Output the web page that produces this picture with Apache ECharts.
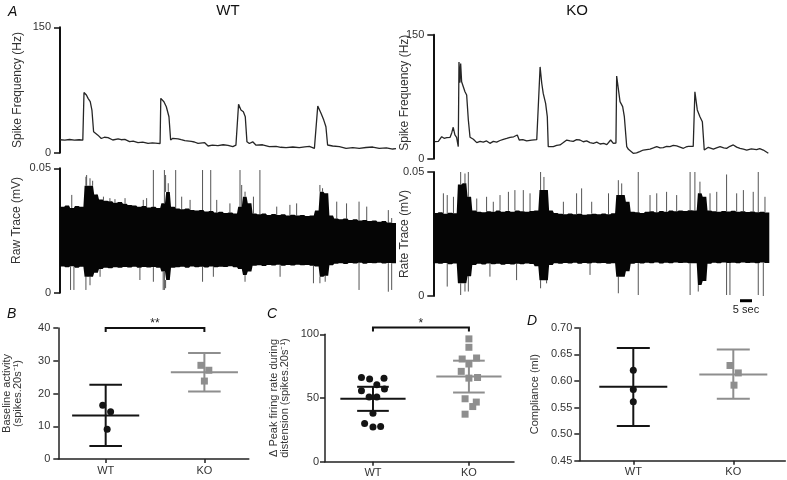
<!DOCTYPE html>
<html><head><meta charset="utf-8">
<script src="https://cdn.jsdelivr.net/npm/echarts@6/dist/echarts.min.js"></script>
<style>html,body{margin:0;padding:0;background:#fff}#c{width:787px;height:480px}</style>
</head><body><div id="c"></div><script>
// ---------- Panel A: spike frequency traces (time s, Hz) ----------
const wtFreq = [[0,15.5],[2,15],[4,15.8],[6,15],[8,15.5],[9.5,15],[10,72],[11,69],[11.7,65],[12.6,61],[13.3,51],[14,25],[14.5,23],[15.8,21],[17.2,17],[18.5,18.5],[20,18],[22,15.2],[24.2,16.5],[25.5,15.5],[27,16],[29,13.2],[30.5,13.8],[32.5,12],[34.5,12.6],[36.7,11.2],[38.5,11.8],[40.8,11.2],[41.7,11],[42,65],[43.3,61],[44.3,55],[45.4,43],[46.1,15.2],[47,17.2],[49.2,16.5],[50.5,15.5],[52,14.4],[54.7,13.6],[56,12.8],[57.5,11.2],[60.3,12],[61.7,8],[63.5,9],[65.8,8.5],[68,9.5],[70,8.8],[72,7.2],[73.3,9],[74,11.2],[74.4,58],[75.4,51],[76.4,49],[77.2,43],[77.9,13],[78.9,11],[80.3,13],[81.7,9],[84.4,9.5],[87.2,7.2],[90,7.6],[92,6.5],[94.2,6],[97,6.8],[99.7,6],[102,7],[103.9,7.6],[106,5.2],[107.4,55.8],[108.8,47],[109.9,39],[110.8,31],[111.5,9.2],[113.6,8],[116.4,7.2],[119.2,5.2],[122,6],[124.7,5.2],[127.5,6.2],[130.3,6.8],[133,5.2],[136,5.8],[138.6,4.4],[140,4.8]];
const koFreq = [[0.7,20.6],[2.1,21],[3.5,26.6],[4.5,24.7],[5.6,25.5],[7,25.9],[7.7,31.5],[8.3,38],[9,28.7],[9.7,25.9],[10.4,14.5],[10.7,117],[11.1,92],[11.4,115],[11.8,93],[12.5,87],[13.2,81],[13.9,77],[14.6,46.8],[15.3,25.9],[16.7,23.5],[18.1,19.4],[19.5,21],[20.8,20],[22.2,21.5],[23.6,18.6],[25,21],[26.4,20],[27.8,22],[29.2,23.5],[30.6,24.5],[32,25.9],[33.5,26.5],[35,28.7],[35.8,22.6],[37.3,23],[38.9,21.5],[41,22.5],[43.1,23],[43.8,24.7],[44.5,111],[45.2,91],[45.8,79],[46.8,67],[47.5,50.8],[47.9,14.5],[50,14.5],[51.4,16],[52.8,16.6],[54.2,19.5],[55.6,22.6],[57,21.5],[58.3,21],[59.7,23],[61.1,22.6],[62.5,20.5],[63.9,21.5],[65.3,19.5],[66.7,18.6],[68.1,20],[69.5,17.8],[71,18.5],[72.3,17],[73.9,22.6],[75,18.5],[76.1,19],[76.4,100],[77.2,99],[77.8,69],[78.9,63],[79.6,50.8],[80.6,14.5],[81.3,11.3],[83.3,6.5],[84.7,7],[86,8.5],[87.5,10.5],[90.3,11.7],[91.7,13],[93.1,14.5],[94.5,13],[95.8,13.5],[97.2,14.8],[98.6,14.5],[100,16],[101.4,15.4],[102.8,14],[104.2,12.6],[105.3,14.2],[106.3,15],[108.3,14.8],[109,81],[110,59],[111.1,50.8],[112.1,44.8],[112.9,10.5],[114.6,13.8],[116.7,11.5],[118,13],[119.5,14.5],[121,13],[122.2,12.5],[123.6,15],[125,16.6],[126.4,14],[127.8,12.5],[129.2,11.5],[130.6,10.5],[132.5,12],[134.7,11],[136,12.2],[137.5,10.5],[139.6,6.5]];

// ---------- Panel A: raw traces, envelope per 2 s bin (mV) ----------
const rawBinStart = 0, rawBin = 2;
const wtRawUpper = [.0345,.0350,.0340,.0348,.0345, .0430,.0430,.0395,.0375,.0370, .0368,.0362,.0365,.0358,.0352, .0350,.0345,.0348,.0342,.0345, .0340,.0360,.0405,.0345,.0338, .0335,.0338,.0332,.0330,.0332, .0326,.0328,.0322,.0325,.0320, .0322,.0318,.0345,.0386,.0360, .0318,.0315,.0318,.0312,.0316, .0312,.0315,.0310,.0313,.0310, .0312,.0308,.0310,.0330,.0406, .0400,.0310,.0298,.0295,.0298, .0292,.0295,.0290,.0292,.0288, .0290,.0285,.0288,.0282,.0280];
const wtRawLower = [.0105,.0102,.0106,.0100,.0104, .0064,.0064,.0080,.0095,.0100, .0098,.0102,.0100,.0103,.0101, .0104,.0100,.0103,.0101,.0103, .0100,.0085,.0051,.0100,.0102, .0104,.0100,.0105,.0102,.0104, .0101,.0105,.0102,.0104,.0103, .0106,.0102,.0095,.0071,.0085, .0108,.0110,.0107,.0111,.0109, .0112,.0108,.0111,.0109,.0112, .0110,.0111,.0108,.0105,.0064, .0068,.0110,.0116,.0118,.0115, .0119,.0117,.0120,.0116,.0119, .0118,.0120,.0117,.0119,.0118];
const koRawUpper = [.0335,.0338,.0332,.0336,.0334, .0450,.0455,.0400,.0345,.0340, .0338,.0342,.0340,.0345,.0340, .0343,.0340,.0345,.0342,.0340, .0343,.0345,.0427,.0427,.0345, .0335,.0332,.0330,.0333,.0330, .0332,.0328,.0330,.0332,.0330, .0333,.0330,.0334,.0407,.0407, .0380,.0340,.0338,.0335,.0340, .0342,.0338,.0343,.0340,.0345, .0342,.0345,.0343,.0346,.0345, .0414,.0400,.0345,.0342,.0340, .0343,.0341,.0344,.0340,.0342, .0339,.0341,.0338,.0340,.0337];
const koRawLower = [.0132,.0130,.0133,.0128,.0131, .0051,.0051,.0080,.0125,.0130, .0127,.0131,.0128,.0130,.0126, .0129,.0127,.0130,.0128,.0131, .0129,.0120,.0064,.0064,.0125, .0132,.0130,.0133,.0131,.0134, .0130,.0133,.0131,.0134,.0132, .0133,.0130,.0132,.0078,.0078, .0100,.0130,.0133,.0131,.0134, .0132,.0135,.0131,.0134,.0132, .0135,.0133,.0134,.0132,.0132, .0044,.0060,.0130,.0134,.0132, .0135,.0133,.0134,.0132,.0135, .0133,.0134,.0132,.0135,.0133];
// individual large deflections: [time, low, high]
const wtRawSpikes = [[4.4,.0011,.030],[5.8,.0011,.030],[10.8,.0011,.0466],[33.3,.0051,.030],[38.9,.0044,.0493],[43.5,.0011,.0493],[48.2,.02,.0493],[59.4,.0044,.0493],[62.8,.02,.0493],[75.0,.02,.0493],[83.3,.02,.0493],[105.6,.0038,.030],[124.6,.0011,.0366],[136.8,.0004,.0332],[138.2,.0011,.030],
 [4.9,.02,.0393],[11.1,.02,.0473],[12.5,.003,.046],[13.6,.02,.045],[15.3,.02,.0397],[16.7,.0064,.02],[18.1,.02,.0386],[20.8,.02,.038],[22.9,.02,.0376],[27.1,.02,.038],[34.7,.02,.0373],[36.1,.02,.038],[43.0,.0011,.02],[44.0,.0018,.0473],[45.1,.02,.044],[50.7,.02,.0386],[54.2,.02,.0373],[63.9,.0064,.02],[65.3,.02,.0373],[70.8,.02,.0359],[75.7,.02,.0433],[77.1,.0044,.0406],[80.6,.02,.0386],[90.3,.02,.0346],[91.7,.0064,.02],[95.8,.02,.0353],[98.6,.02,.0359],[108.3,.0038,.0433],[109.4,.02,.042],[110.5,.0044,.02],[115.3,.02,.0366],[119.4,.02,.0359],[127.8,.02,.0346]];
const koRawSpikes = [[11.4,.0004,.05],[13.2,.0018,.0494],[14.6,.0018,.05],[44.7,.0031,.05],[77.1,.0011,.0467],[85.4,.0004,.05],[107,.0004,.05],[109,.02,.05],[122.2,.0004,.049],[123.6,.0004,.03],[135.4,.0004,.05],[137.5,0,.03],
 [4.2,.02,.0414],[5.8,.0038,.0407],[8.4,.02,.040],[18.1,.02,.0393],[22.2,.02,.040],[23.6,.0078,.02],[25,.02,.038],[27.8,.02,.0407],[31.3,.02,.042],[34,.02,.0427],[34.7,.0064,.02],[37.5,.02,.0427],[40.3,.02,.0414],[46.1,.02,.048],[47.2,.0051,.02],[54.2,.02,.038],[59.7,.02,.0414],[61.8,.02,.0434],[65.3,.0085,.02],[66,.02,.038],[73,.02,.0414],[78.5,.02,.0454],[90.3,.02,.0407],[93.1,.02,.0414],[97.2,.02,.042],[101.4,.02,.0407],[110.4,.0018,.02],[111.1,.02,.0461],[115.3,.02,.0414],[118.1,.02,.042],[126.4,.02,.0414],[129.2,.02,.0427],[133.3,.02,.042],[138.2,.02,.040]];
const scaleBar = [127.8, 5, -0.0019]; // start (s), length (s), level (mV)

// ---------- Panels B, C, D ----------
const groups = ['WT', 'KO'];
const bWT = [16.4, 14.4, 9.1],  bWTjit = [-0.03, 0.05, 0.015];
const bKO = [28.6, 27.1, 23.8], bKOjit = [-0.035, 0.045, 0.0];
const bStats = [[1, 13.3, 4.0, 22.7], [2, 26.5, 20.6, 32.4]]; // x, mean, low, high
const cWT = [66.1, 64.9, 65.6, 60.4, 55.7, 57.0, 50.7, 50.7, 38.1, 29.9, 27.3, 27.6];
const cWTjit = [-0.12, -0.035, 0.115, 0.04, -0.12, 0.12, -0.04, 0.04, 0.0, -0.087, 0.0, 0.08];
const cKO = [96.4, 89.8, 80.6, 81.4, 76.7, 70.9, 65.6, 66.1, 49.4, 46.8, 43.3, 37.3];
const cKOjit = [0.0, 0.0, -0.07, 0.08, 0.0, -0.08, 0.0, 0.09, -0.04, 0.077, 0.04, -0.04];
const cStats = [[1, 49.4, 39.9, 58.8], [2, 66.9, 54.3, 79.3]];
const dWT = [0.620, 0.584, 0.561], dWTjit = [0.0, 0.0, 0.0];
const dKO = [0.629, 0.615, 0.592], dKOjit = [-0.033, 0.05, 0.007];
const dStats = [[1, 0.589, 0.515, 0.662], [2, 0.612, 0.5665, 0.659]];
const sigB = [1, 2, 40, '**'];
const sigC = [1, 2, 105.3, '*'];

// ---------- styles ----------
const FONT = '"Liberation Sans", Arial, Helvetica, sans-serif';
const BLACK = '#141414', GREY = '#8e8e8e';
const chart = echarts.init(document.getElementById('c'), null, {renderer: 'canvas'});

function traceY(idx, max, nameText, gap, pad) {
  return {gridIndex: idx, type: 'value', min: 0, max: max, interval: max,
    axisLine: {show: true, onZero: false, lineStyle: {color: '#111', width: 2}},
    axisTick: {show: true, length: 6, lineStyle: {color: '#111', width: 1.5}},
    axisLabel: {margin: 9, fontSize: 11, color: '#333', fontFamily: FONT,
      formatter: v => v === 0 ? '0' : (max < 1 ? v.toFixed(2) : String(v))},
    splitLine: {show: false},
    name: nameText, nameLocation: 'middle', nameRotate: 90, nameGap: gap, nameMoveOverlap: false,
    nameTextStyle: {fontSize: 12, color: '#333', fontFamily: FONT, padding: pad || 0}};
}
function traceX(idx) { return {gridIndex: idx, type: 'value', min: 0, max: 140, show: false}; }
function statX(idx, min, max) {
  return {gridIndex: idx, type: 'value', min: min, max: max,
    axisLine: {show: true, onZero: false, lineStyle: {color: '#222', width: 1.5}},
    axisTick: {show: true, customValues: [1, 2], length: 4, lineStyle: {color: '#222', width: 1.5}},
    axisLabel: {customValues: [1, 2], formatter: v => groups[Math.round(v) - 1], margin: 6, fontSize: 11, color: '#333', fontFamily: FONT},
    splitLine: {show: false}};
}
function statY(idx, min, max, interval, nameText, gap, dec, margin) {
  return {gridIndex: idx, type: 'value', min: min, max: max, interval: interval,
    axisLine: {show: true, onZero: false, lineStyle: {color: '#222', width: 1.5}},
    axisTick: {show: true, length: 5, lineStyle: {color: '#222', width: 1.5}},
    axisLabel: {margin: margin, fontSize: 11, color: '#333', fontFamily: FONT,
      formatter: v => dec ? v.toFixed(dec) : String(Math.round(v))},
    splitLine: {show: false},
    name: nameText, nameLocation: 'middle', nameRotate: 90, nameGap: gap, nameMoveOverlap: false,
    nameTextStyle: {fontSize: 11, lineHeight: 11, color: '#333', fontFamily: FONT}};
}

// band of the raw recording: one filled polygon, flat across each bin
function bandSeries(ax, upper, lower) {
  const bins = upper.map((u, i) => [rawBinStart + i * rawBin, lower[i], u]);
  return {type: 'custom', xAxisIndex: ax, yAxisIndex: ax, z: 3, data: bins, animation: false, silent: true,
    renderItem: (p, api) => {
      if (p.dataIndex !== 0) return null;
      const top = [], bot = [], e = 0.25 * rawBin;
      bins.forEach((b, i) => {
        const t0 = i === 0 ? b[0] : b[0] + e / 2, t1 = i === bins.length - 1 ? b[0] + rawBin : b[0] + rawBin - e / 2;
        top.push(api.coord([t0, b[2]]), api.coord([t1, b[2]]));
        bot.push(api.coord([t0, b[1]]), api.coord([t1, b[1]]));
      });
      return {type: 'polygon', shape: {points: top.concat(bot.reverse())},
        style: {fill: '#050505'}};
    }};
}
// deflections: only the parts that stick out of the band are drawn
function spikeSeries(ax, spikes, upper, lower) {
  return {type: 'custom', xAxisIndex: ax, yAxisIndex: ax, z: 2, data: spikes, animation: false, silent: true,
    renderItem: (p, api) => {
      const t = api.value(0), lo = api.value(1), hi = api.value(2);
      const k = Math.min(upper.length - 1, Math.max(0, Math.floor((t - rawBinStart) / rawBin)));
      const kids = [];
      const st = {stroke: '#555', lineWidth: 1};
      if (hi > upper[k]) {
        const a = api.coord([t, upper[k]]), b = api.coord([t, hi]);
        kids.push({type: 'line', shape: {x1: a[0], y1: a[1], x2: b[0], y2: b[1]}, style: st});
      }
      if (lo < lower[k]) {
        const a = api.coord([t, lo]), b = api.coord([t, lower[k]]);
        kids.push({type: 'line', shape: {x1: a[0], y1: a[1], x2: b[0], y2: b[1]}, style: st});
      }
      return {type: 'group', children: kids};
    }};
}
function lineSeries(ax, data) {
  return {type: 'line', xAxisIndex: ax, yAxisIndex: ax, data: data, showSymbol: false, symbol: 'none',
    lineStyle: {color: '#262626', width: 1.3}, animation: false};
}
function dots(ax, vals, jit, sym, color) {
  return {type: 'scatter', xAxisIndex: ax, yAxisIndex: ax, symbol: sym, symbolSize: 7,
    data: vals.map((v, i) => [(sym === 'circle' ? 1 : 2) + jit[i], v]),
    itemStyle: {color: color, opacity: 1}, z: 4, animation: false};
}
function errSeries(ax, stats) {
  return {type: 'custom', xAxisIndex: ax, yAxisIndex: ax, data: stats, z: 5, animation: false,
    renderItem: (p, api) => {
      const x = api.value(0), m = api.value(1), lo = api.value(2), hi = api.value(3);
      const col = x < 1.5 ? BLACK : GREY;
      const st = {stroke: col, lineWidth: 2};
      const mL = api.coord([x - 0.34, m]), mR = api.coord([x + 0.34, m]);
      const cT1 = api.coord([x - 0.165, hi]), cT2 = api.coord([x + 0.165, hi]);
      const cB1 = api.coord([x - 0.165, lo]), cB2 = api.coord([x + 0.165, lo]);
      const top = api.coord([x, hi]), bot = api.coord([x, lo]);
      return {type: 'group', children: [
        {type: 'line', shape: {x1: mL[0], y1: mL[1], x2: mR[0], y2: mR[1]}, style: st},
        {type: 'line', shape: {x1: top[0], y1: top[1], x2: bot[0], y2: bot[1]}, style: st},
        {type: 'line', shape: {x1: cT1[0], y1: cT1[1], x2: cT2[0], y2: cT2[1]}, style: st},
        {type: 'line', shape: {x1: cB1[0], y1: cB1[1], x2: cB2[0], y2: cB2[1]}, style: st}]};
    }};
}
function sigSeries(ax, sig) {
  return {type: 'custom', xAxisIndex: ax, yAxisIndex: ax, data: [sig], z: 5, animation: false, clip: false,
    renderItem: (p, api) => {
      const a = api.coord([sig[0], sig[2]]), b = api.coord([sig[1], sig[2]]);
      return {type: 'group', children: [
        {type: 'polyline', shape: {points: [[a[0], a[1] + 4], a, b, [b[0], b[1] + 4]]},
          style: {stroke: '#111', lineWidth: 2, fill: null}},
        {type: 'text', x: (a[0] + b[0]) / 2, y: a[1] - 4,
          style: {text: sig[3], fontSize: 12, fontFamily: FONT, fill: '#222', align: 'center', verticalAlign: 'middle'}}]};
    }};
}
function scaleSeries(ax) {
  return {type: 'custom', xAxisIndex: ax, yAxisIndex: ax, data: [scaleBar], z: 5, animation: false, clip: false,
    renderItem: (p, api) => {
      const a = api.coord([scaleBar[0], scaleBar[2]]), b = api.coord([scaleBar[0] + scaleBar[1], scaleBar[2]]);
      return {type: 'group', children: [
        {type: 'line', shape: {x1: a[0], y1: a[1], x2: b[0], y2: b[1]}, style: {stroke: '#000', lineWidth: 3}},
        {type: 'text', x: (a[0] + b[0]) / 2, y: a[1] + 4,
          style: {text: '5 sec', fontSize: 11, fontFamily: FONT, fill: '#222', align: 'center', verticalAlign: 'top'}}]};
    }};
}

const g = (l, t, w, h) => ({left: l, top: t, width: w, height: h, containLabel: false, outerBoundsMode: 'none'});
const option = {
  backgroundColor: '#fff',
  animation: false,
  grid: [g(60, 27.3, 336, 125.4), g(60, 168.3, 336, 124.4), g(433.3, 34.7, 336, 124), g(433.3, 172, 336, 124),
         g(58.3, 328, 190.5, 131), g(325, 334.3, 189, 127.4), g(579.3, 327.7, 206, 133)],
  xAxis: [traceX(0), traceX(1), traceX(2), traceX(3),
          statX(4, 0.52, 2.45), statX(5, 0.5, 2.47), statX(6, 0.46, 2.52)],
  yAxis: [traceY(0, 150, 'Spike Frequency (Hz)', 36), traceY(1, 0.05, 'Raw Trace (mV)', 37, [0, 0, 0, 20]),
          traceY(2, 150, 'Spike Frequency (Hz)', 23, [0, 0, 0, 8]), traceY(3, 0.05, 'Rate Trace (mV)', 23),
          statY(4, 0, 40, 10, 'Baseline activity\n(spikes.20s⁻¹)', 35, 0, 8),
          statY(5, 0, 100, 50, 'Δ Peak firing rate during\ndistension (spikes.20s⁻¹)', 35, 0, 6),
          statY(6, 0.45, 0.70, 0.05, 'Compliance (ml)', 39, 2, 7)],
  graphic: [
    {type: 'text', left: 8, top: 5, style: {text: 'A', fontSize: 14, fontStyle: 'italic', fontFamily: FONT, fill: '#111'}},
    {type: 'text', x: 228, y: 3, style: {text: 'WT', fontSize: 15, fontFamily: FONT, fill: '#111', align: 'center'}},
    {type: 'text', x: 577, y: 3, style: {text: 'KO', fontSize: 15, fontFamily: FONT, fill: '#111', align: 'center'}},
    {type: 'text', left: 7, top: 307, style: {text: 'B', fontSize: 14, fontStyle: 'italic', fontFamily: FONT, fill: '#111'}},
    {type: 'text', left: 267, top: 307, style: {text: 'C', fontSize: 14, fontStyle: 'italic', fontFamily: FONT, fill: '#111'}},
    {type: 'text', left: 527, top: 314, style: {text: 'D', fontSize: 14, fontStyle: 'italic', fontFamily: FONT, fill: '#111'}}
  ],
  series: [
    lineSeries(0, wtFreq),
    spikeSeries(1, wtRawSpikes, wtRawUpper, wtRawLower), bandSeries(1, wtRawUpper, wtRawLower),
    lineSeries(2, koFreq),
    spikeSeries(3, koRawSpikes, koRawUpper, koRawLower), bandSeries(3, koRawUpper, koRawLower), scaleSeries(3),
    dots(4, bWT, bWTjit, 'circle', BLACK), dots(4, bKO, bKOjit, 'rect', GREY), errSeries(4, bStats), sigSeries(4, sigB),
    dots(5, cWT, cWTjit, 'circle', BLACK), dots(5, cKO, cKOjit, 'rect', GREY), errSeries(5, cStats), sigSeries(5, sigC),
    dots(6, dWT, dWTjit, 'circle', BLACK), dots(6, dKO, dKOjit, 'rect', GREY), errSeries(6, dStats)
  ]
};
chart.setOption(option);
</script></body></html>
